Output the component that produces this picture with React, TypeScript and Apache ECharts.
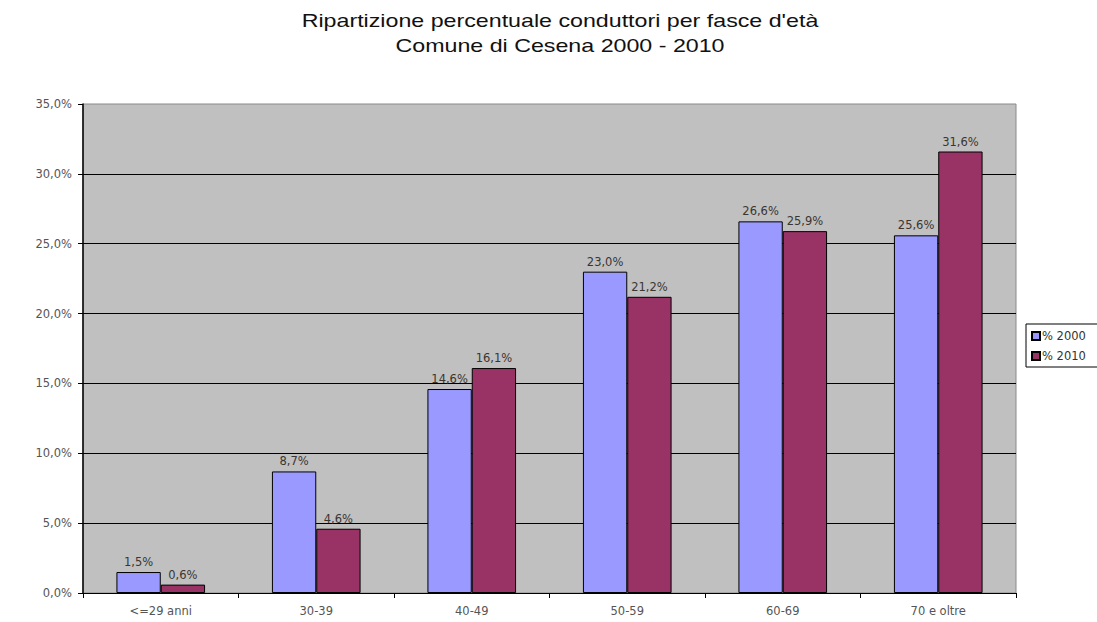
import React, { useEffect, useRef } from "react";
import * as echarts from "echarts";

const categories = ["<=29 anni", "30-39", "40-49", "50-59", "60-69", "70 e oltre"];
const values2000 = [1.5, 8.7, 14.6, 23.0, 26.6, 25.6];
const values2010 = [0.6, 4.6, 16.1, 21.2, 25.9, 31.6];
const seriesNames = ["% 2000", "% 2010"];
const titleLines = ["Ripartizione percentuale conduttori per fasce d'età", "Comune di Cesena 2000 - 2010"];

const fmt = (v: number) => v.toFixed(1).replace(".", ",") + "%";

export default function App() {
  const ref = useRef<HTMLDivElement>(null);
  useEffect(() => {
    if (!ref.current) return;
    const chart = echarts.init(ref.current, undefined, { renderer: "svg" });
    const font = "Arial, 'Liberation Sans', sans-serif";
    const wide = "'DejaVu Sans', sans-serif";
    const label = {
      show: true,
      position: "top" as const,
      distance: 4,
      fontSize: 11.5,
      fontFamily: wide,
      color: "#3a3530",
      formatter: (p: any) => fmt(p.value),
    };
    chart.setOption({
      animation: false,
      backgroundColor: "#ffffff",
      graphic: titleLines.map((t, i) => ({
        type: "text",
        x: 560,
        y: 21 + i * 25,
        scaleX: 1.29,
        silent: true,
        style: {
          text: t,
          fontFamily: font,
          fontSize: 18,
          fill: "#111",
          textAlign: "center",
          textVerticalAlign: "middle",
        },
      })),
      legend: {
        orient: "vertical",
        left: 1026,
        top: 324,
        itemWidth: 8,
        itemHeight: 8,
        itemGap: 8,
        padding: [6, 20, 5, 5],
        borderColor: "#000",
        borderWidth: 1,
        icon: "rect",
        textStyle: { fontFamily: wide, fontSize: 11.5, color: "#333", padding: [0, 0, 0, -3] },
        data: seriesNames,
      },
      grid: {
        left: 83,
        right: 81,
        top: 104,
        bottom: 29,
        show: true,
        backgroundColor: "#C0C0C0",
        borderColor: "#8a8a8a",
        borderWidth: 1,
      },
      xAxis: {
        type: "category",
        data: categories,
        axisLine: { show: true, lineStyle: { color: "#000", width: 1 } },
        axisTick: { show: true, alignWithLabel: false, length: 5, lineStyle: { color: "#000" } },
        axisLabel: { fontFamily: wide, fontSize: 11.5, color: "#555", margin: 12 },
        splitLine: { show: false },
      },
      yAxis: {
        type: "value",
        min: 0,
        max: 35,
        interval: 5,
        axisLine: { show: true, lineStyle: { color: "#000", width: 1.5 } },
        axisTick: { show: true, length: 5, lineStyle: { color: "#000" } },
        axisLabel: {
          fontFamily: wide,
          fontSize: 11.5,
          color: "#555",
          margin: 11,
          formatter: (v: number) => fmt(v),
        },
        splitLine: { show: true, showMaxLine: false, lineStyle: { color: "#000", width: 1 } },
      },
      series: [
        {
          name: seriesNames[0],
          type: "bar",
          data: values2000,
          barGap: "0%",
          barCategoryGap: "43%",
          itemStyle: { color: "#9999FF", borderColor: "#000", borderWidth: 1 },
          label,
        },
        {
          name: seriesNames[1],
          type: "bar",
          data: values2010,
          barGap: "0%",
          barCategoryGap: "43%",
          itemStyle: { color: "#993366", borderColor: "#000", borderWidth: 1 },
          label,
        },
      ],
    });
    return () => chart.dispose();
  }, []);
  return (
    <div
      ref={ref}
      style={{ position: "fixed", left: 0, top: 0, width: 1097, height: 622 }}
    />
  );
}
